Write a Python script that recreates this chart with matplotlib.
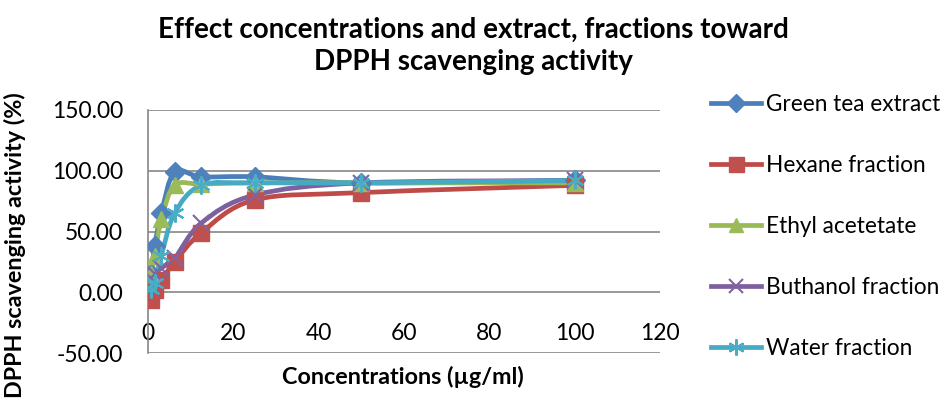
import numpy as np
import matplotlib
matplotlib.use("Agg")
import matplotlib.pyplot as plt
from matplotlib.path import Path
from matplotlib.patches import PathPatch
from matplotlib.lines import Line2D

plt.rcParams['font.family'] = ['Lato', 'DejaVu Sans']

conc = [0.78, 1.56, 3.125, 6.25, 12.5, 25, 50, 100]
green_tea = [15, 38, 65, 99, 95, 95, 90, 92]
hexane = [-6, 2, 10, 25, 49, 76, 82, 88]
ethyl = [15, 30, 60, 88, 89, 90, 90, 90]
buthanol = [12, 15, 20, 28, 57, 80, 90, 92]
water = [3, 8, 30, 65, 88, 90, 90, 92]

series_names = ["Green tea extract", "Hexane fraction", "Ethyl acetetate",
                "Buthanol fraction", "Water fraction"]
series_vals = [green_tea, hexane, ethyl, buthanol, water]
line_colors = ["#4A7EBB", "#BE4B48", "#98B954", "#7D60A0", "#46AAC5"]
mark_colors = ["#4F81BD", "#C0504D", "#9BBB59", "#8064A2", "#4BACC6"]
markers = ["D", "s", "^", "x", (6, 2, 0)]
msizes = [10, 12, 11, 11, 13]

x_ticks = [0, 20, 40, 60, 80, 100, 120]
y_ticks = [-50, 0, 50, 100, 150]

fig = plt.figure(figsize=(9.45, 4.04), dpi=100)
ax = fig.add_axes([148/945, 1-353/404, (660-148)/945, (353-110)/404])
ax.set_xlim(0, 120)
ax.set_ylim(-50, 150)


def smooth_path(xs, ys):
    pts = np.column_stack([xs, ys]).astype(float)
    n = len(pts)
    verts = [pts[0]]
    codes = [Path.MOVETO]
    for i in range(n - 1):
        p0 = pts[i - 1] if i > 0 else pts[i]
        p1 = pts[i]
        p2 = pts[i + 1]
        p3 = pts[i + 2] if i + 2 < n else pts[i + 1]
        c1 = p1 + (p2 - p0) / 6.0
        c2 = p2 - (p3 - p1) / 6.0
        verts += [c1, c2, p2]
        codes += [Path.CURVE4] * 3
    return Path(verts, codes)


def is_line_marker(mk):
    return mk == "x" or isinstance(mk, tuple)


for vals, lc, mc, mk, ms in zip(series_vals, line_colors, mark_colors, markers, msizes):
    patch = PathPatch(smooth_path(conc, vals), facecolor='none', edgecolor=lc,
                      lw=3.4, capstyle='round', joinstyle='round', zorder=3)
    ax.add_patch(patch)
    ax.plot(conc, vals, linestyle='none', marker=mk, markersize=ms,
            markeredgecolor=mc, markerfacecolor=mc,
            markeredgewidth=1.5 if is_line_marker(mk) else 1.0, zorder=4)

ax.set_yticks(y_ticks)
ax.set_yticklabels([f"{v:.2f}" for v in y_ticks])
ax.set_xticks(x_ticks)
ax.set_xticklabels([str(v) for v in x_ticks])
ax.grid(axis='y', color='#868686', lw=1.2, zorder=0)
for s in ['top', 'right', 'bottom']:
    ax.spines[s].set_visible(False)
ax.spines['bottom'].set_position(('data', 0))
ax.spines['left'].set_color('#868686')
ax.spines['left'].set_linewidth(1.2)
ax.tick_params(axis='x', length=0, pad=22, labelsize=16.5)
ax.tick_params(axis='y', length=0, pad=18, labelsize=16.5)
ax.set_axisbelow(True)

fig.text(403/945, 1-377/404, "Concentrations (µg/ml)", ha='center', va='center',
         fontsize=16.8, fontweight='bold')
fig.text(15/945, 1-245/404, "DPPH scavenging activity (%)", ha='center', va='center',
         rotation=90, fontsize=16.8, fontweight='bold')
fig.text(473/945, 1-30/404, "Effect concentrations and extract, fractions toward",
         ha='center', va='center', fontsize=20, fontweight='bold')
fig.text(473/945, 1-62/404, "DPPH scavenging activity",
         ha='center', va='center', fontsize=20, fontweight='bold')

handles = []
for lc, mc, mk, ms in zip(line_colors, mark_colors, markers, msizes):
    handles.append(Line2D([0], [0], color=lc, lw=3.4, marker=mk, markersize=ms * 0.9,
                          markeredgecolor=mc, markerfacecolor=mc,
                          markeredgewidth=1.5 if is_line_marker(mk) else 1.0))
leg = fig.legend(handles, series_names, loc='upper left',
                 bbox_to_anchor=(711/945, 1-94/404), frameon=False, fontsize=16.3,
                 handlelength=2.2, handletextpad=0.22, labelspacing=1.77,
                 borderpad=0, borderaxespad=0)

fig.savefig("out.png", dpi=100)
